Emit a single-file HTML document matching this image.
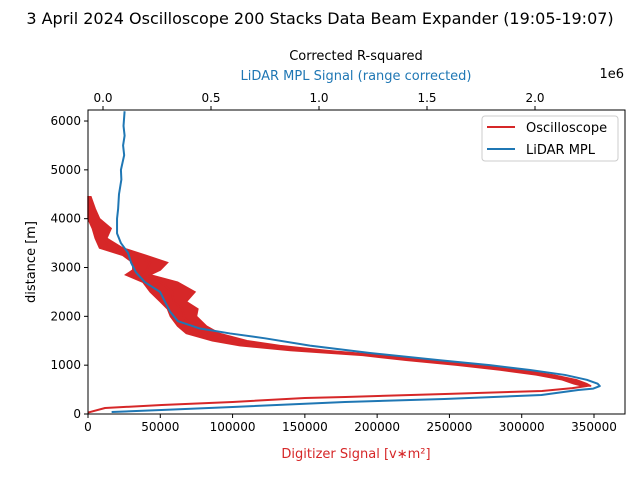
<!DOCTYPE html>
<html><head><meta charset="utf-8"><style>
body{margin:0;background:#fff;font-family:"Liberation Sans","DejaVu Sans",sans-serif}
svg text{font-family:"DejaVu Sans","Liberation Sans",sans-serif}
</style></head><body>
<svg id="c" width="640" height="480" xmlns="http://www.w3.org/2000/svg"></svg>
<script>
const bottomTicks=[0,50000,100000,150000,200000,250000,300000,350000];
const bottomLabels=["0","50000","100000","150000","200000","250000","300000","350000"];
const topTicks=[0,0.5,1.0,1.5,2.0];
const topLabels=["0.0","0.5","1.0","1.5","2.0"];
const yTicks=[0,1000,2000,3000,4000,5000,6000];
const redHeights=[4450,4200,4000,3800,3600,3400,3250,3100,2950,2850,2700,2500,2300,2150,2000,1800,1650,1500,1400,1300,1200,1100,1000,900,800,700,620,573];
const redLo=[0,0,0,3000,5000,8000,24000,31000,31000,26000,38000,43000,50000,55000,57000,62000,68000,86000,105000,140000,190000,220000,255000,285000,310000,328000,336000,342000];
const redHi=[2000,5000,8000,16000,13000,24000,40000,55000,50000,43000,62000,74000,68000,76000,75000,82000,91000,110000,133000,165000,205000,238000,270000,300000,322000,338000,345000,348000];
const redLowHeights=[530,471,410,348,328,246,184,123,30];
const redLowVals=[335000,314000,247000,178000,150000,100000,51000,11800,0];
const blueHeights=[6200,5900,5700,5500,5300,5000,4800,4500,4200,4000,3700,3500,3300,3100,2900,2700,2500,2300,2100,1900,1750,1650,1550,1400,1250,1100,1000,900,800,700,620,573,520,491,389,307,246,143,82,41];
const blueVals=[0.10,0.095,0.10,0.093,0.098,0.083,0.085,0.074,0.07,0.065,0.065,0.083,0.116,0.13,0.153,0.194,0.264,0.287,0.31,0.347,0.449,0.588,0.75,0.958,1.236,1.56,1.79,1.977,2.139,2.24,2.29,2.30,2.27,2.20,2.03,1.58,1.12,0.60,0.27,0.04];

const L=88,R=625,T=110,B=414;
const xb=v=>L+v*506/350000;
const xt=v=>103+v*216;
const yy=v=>B-v*0.04883;
const svg=document.getElementById('c');
const NS='http://www.w3.org/2000/svg';
function mk(tag,attrs,txt){const e=document.createElementNS(NS,tag);for(const k in attrs)e.setAttribute(k,attrs[k]);if(txt!==undefined)e.textContent=txt;svg.appendChild(e);return e;}

let e;
e=mk('text',{x:320,y:24,'font-size':16,'text-anchor':'middle'},'3 April 2024 Oscilloscope 200 Stacks Data Beam Expander (19:05-19:07)');


e=mk('text',{x:356,y:60,'font-size':13,'text-anchor':'middle'},'Corrected R-squared');


e=mk('text',{x:356,y:80,'font-size':13,'text-anchor':'middle',fill:'#1f77b4'},'LiDAR MPL Signal (range corrected)');


e=mk('text',{x:624,y:78,'font-size':13,'text-anchor':'end'},'1e6');


e=mk('text',{x:356,y:458,'font-size':13,'text-anchor':'middle',fill:'#d62728'},'Digitizer Signal [v∗m²]');


e=mk('text',{x:0,y:0,'font-size':13,'text-anchor':'middle',transform:'translate(35,262) rotate(-90)'},'distance [m]');



let pts=[];
for(let i=0;i<redHeights.length;i++)pts.push(xb(redLo[i])+','+yy(redHeights[i]));
for(let i=redHeights.length-1;i>=0;i--)pts.push(xb(redHi[i])+','+yy(redHeights[i]));
e=mk('polygon',{points:pts.join(' '),fill:'#d62728',stroke:'#d62728','stroke-width':1.5});


let lp=[];
for(let i=0;i<redHeights.length;i++)lp.push(xb((redLo[i]+redHi[i])/2)+','+yy(redHeights[i]));
for(let i=0;i<redLowHeights.length;i++)lp.push(xb(redLowVals[i])+','+yy(redLowHeights[i]));
e=mk('polyline',{points:lp.join(' '),fill:'none',stroke:'#d62728','stroke-width':2,'stroke-linejoin':'round'});


let bp=blueHeights.map((h,i)=>xt(blueVals[i])+','+yy(h));
e=mk('polyline',{points:bp.join(' '),fill:'none',stroke:'#1f77b4','stroke-width':2,'stroke-linejoin':'round'});



e=mk('rect',{x:L,y:T,width:R-L,height:B-T,fill:'none',stroke:'#000','stroke-width':1});



bottomTicks.forEach((v,i)=>{const x=xb(v);
 e=mk('line',{x1:x,y1:B,x2:x,y2:B+4,stroke:'#000'});
 
 
 e=mk('text',{x:x,y:B+17,'font-size':12,'text-anchor':'middle'},bottomLabels[i]);
 
 });
topTicks.forEach((v,i)=>{const x=xt(v);
 e=mk('line',{x1:x,y1:T,x2:x,y2:T-4,stroke:'#000'});
 
 
 e=mk('text',{x:x,y:T-8,'font-size':12,'text-anchor':'middle'},topLabels[i]);
 
 });
yTicks.forEach(v=>{const y=yy(v);
 e=mk('line',{x1:L,y1:y,x2:L-4,y2:y,stroke:'#000'});
 
 
 e=mk('text',{x:L-7,y:y+4,'font-size':12,'text-anchor':'end'},String(v));
 
 });

e=mk('rect',{x:482,y:116,width:136,height:45,rx:3,fill:'#fff','fill-opacity':0.8,stroke:'#ccc'});


e=mk('line',{x1:487,y1:127,x2:515,y2:127,stroke:'#d62728','stroke-width':2});


e=mk('text',{x:526,y:132,'font-size':13},'Oscilloscope');


e=mk('line',{x1:487,y1:149,x2:515,y2:149,stroke:'#1f77b4','stroke-width':2});


e=mk('text',{x:526,y:154,'font-size':13},'LiDAR MPL');


</script>
</body></html>
